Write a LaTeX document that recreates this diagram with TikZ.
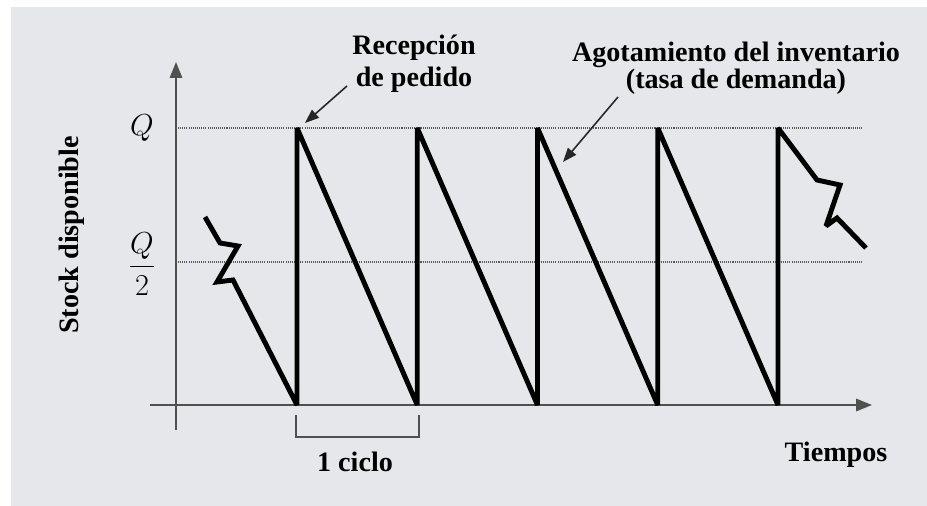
\documentclass[tikz,border=0pt]{standalone}
\usepackage{fontspec}
\setmainfont{Liberation Serif}
\usetikzlibrary{arrows.meta}
\definecolor{panelgray}{HTML}{E5E7EA}
\definecolor{axisgray}{HTML}{505050}
\tikzset{every node/.style={font=\fontsize{16}{18}\selectfont\bfseries, inner sep=0pt},
  axis/.style={axisgray, line width=1.1pt, -{Triangle[length=9pt,width=7pt]}},
  level/.style={gray!70!black, line width=1pt, dash pattern=on 0.6pt off 0.6pt},
  saw/.style={black, line width=2.8pt, line join=miter, miter limit=3},
  annot/.style={black!85, line width=0.9pt, -{Triangle[length=8pt,width=6pt]}},
  cyclebar/.style={axisgray, line width=0.9pt}}

\begin{document}
\begin{tikzpicture}[x=0.02cm, y=-0.02cm]
  \useasboundingbox (0,0) rectangle (927,506);
  \fill[white] (0,0) rectangle (927,506);
  \fill[panelgray] (11,7) rectangle (927,506);
  % niveles Q y Q/2
  \draw[level] (178,128) -- (862,128);
  \draw[level] (178,262) -- (862,262);
  % ejes
  \coordinate (ybot) at (176,430);
  \coordinate (ytop) at (176,62);
  \coordinate (xleft) at (150,405);
  \coordinate (xright) at (872,405);
  \draw[axis] (ybot) -- (ytop);
  \draw[axis] (xleft) -- (xright);
  % etiquetas
  \node (qfull) at (142,128) {$Q$};
  \node (qhalf) at (142,264) {$\displaystyle\frac{Q}{2}$};
  \node[rotate=90] (stock) at (72,235) {Stock disponible};
  \node (tiempos) at (836,455) {Tiempos};
  \node (ciclo) at (355,462) {1 ciclo};
  \node[align=center] (recep) at (414,64) {Recepción\\de pedido};
  \node[align=center, font=\fontsize{16}{14}\selectfont\bfseries] (agot) at (736,68)
       {Agotamiento del inventario\\(tasa de demanda)};
  % diente de sierra
  \draw[saw] (205,217) -- (220,243) -- (238,246) -- (217,282) -- (233,280) -- (297,405)
    \foreach \x in {297,417.25,537.5,657.75} { -- (\x,128) -- ({\x+120.25},405) }
    -- (778,128) -- (817,180) -- (840,185) -- (826,226) -- (837,218) -- (866,248);
  % flechas
  \coordinate (recTail) at (347,86);
  \coordinate (recHead) at (305,123);
  \coordinate (agotTail) at (618,97);
  \coordinate (agotHead) at (563,162);
  \draw[annot] (recTail) -- (recHead);
  \draw[annot] (agotTail) -- (agotHead);
  % 1 ciclo
  \draw[cyclebar] (296,415) -- (296,437) -- (419,437) -- (419,415);
\end{tikzpicture}
\end{document}
